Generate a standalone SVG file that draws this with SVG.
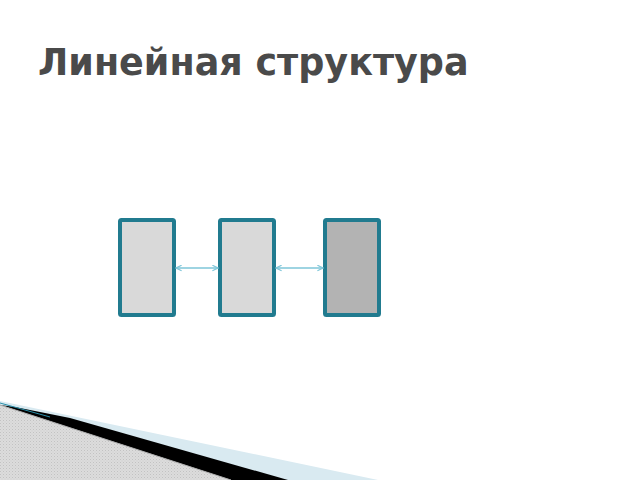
<svg xmlns="http://www.w3.org/2000/svg" width="640" height="480" viewBox="0 0 640 480">
<style>
.title{font-family:"DejaVu Sans",sans-serif;font-weight:bold;font-size:36.5px;fill:#4a4a4a}
.box{stroke:#217b8f;stroke-width:4}
.conn{stroke:#7ec6d8;stroke-width:1.3;fill:none}
</style>
<defs>
<marker id="ah" viewBox="0 0 10 10" refX="9" refY="5" markerWidth="7" markerHeight="7" markerUnits="userSpaceOnUse" orient="auto-start-reverse">
<path d="M1,1 L9,5 L1,9" fill="none" stroke="#7ec6d8" stroke-width="1.6"/>
</marker>
<pattern id="hatch" width="3" height="3" patternUnits="userSpaceOnUse">
<rect width="3" height="3" fill="#dcdcdc"/>
<rect width="1" height="1" fill="#c2c2c2"/>
<rect x="1.5" y="1.5" width="1" height="1" fill="#cccccc"/>
</pattern>
</defs>
<rect width="640" height="480" fill="#ffffff"/>
<text class="title" x="38" y="75">Линейная структура</text>
<g id="decor">
<polygon points="0,401 378,480 0,480" fill="#d9eaf1"/>
<polygon points="15,407 70,418 288,480 231,480 0,405" fill="#000000"/>
<polygon points="0,405 231,480 0,480" fill="url(#hatch)"/>
<line x1="0" y1="405" x2="231" y2="480" stroke="#a9a9a9" stroke-width="1"/>
<line x1="0" y1="403" x2="50" y2="417" stroke="#2a8ea8" stroke-width="1"/>
</g>
<g id="node1"><rect class="box" x="120" y="220" width="54" height="95" rx="1.5" fill="#d9d9d9"/></g>
<g id="node2"><rect class="box" x="220" y="220" width="54" height="95" rx="1.5" fill="#d9d9d9"/></g>
<g id="node3"><rect class="box" x="325" y="220" width="54" height="95" rx="1.5" fill="#b3b3b3"/></g>
<g id="connectors">
<line class="conn" x1="176" y1="268" x2="218" y2="268" marker-start="url(#ah)" marker-end="url(#ah)"/>
<line class="conn" x1="276" y1="268" x2="323" y2="268" marker-start="url(#ah)" marker-end="url(#ah)"/>
</g>
</svg>
